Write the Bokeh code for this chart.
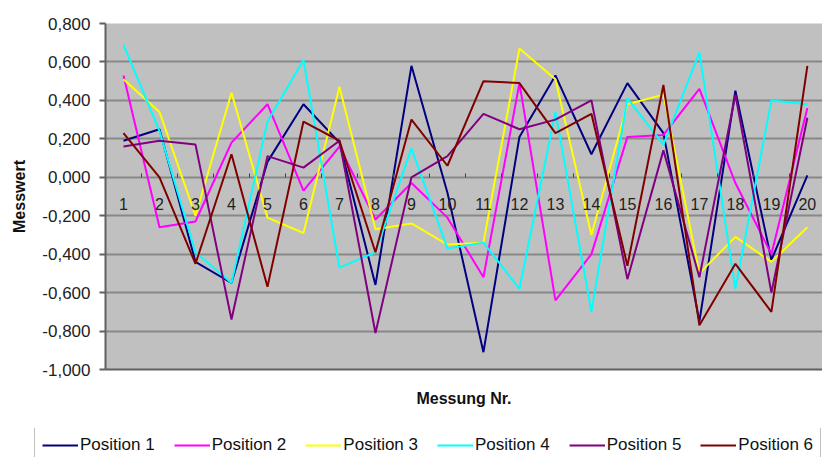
from bokeh.plotting import figure
from bokeh.models import FixedTicker, Legend, LegendItem, Range1d, LinearAxis
from bokeh.embed import file_html
from bokeh.resources import INLINE

# ---- data ----
measurements = list(range(1, 21))
x_tick_labels = [str(m) for m in measurements]

series_names = ["Position 1", "Position 2", "Position 3", "Position 4", "Position 5", "Position 6"]
series_colors = ["#000080", "#FF00FF", "#FFFF00", "#00FFFF", "#800080", "#800000"]

pos1 = [0.19, 0.25, -0.44, -0.55, 0.08, 0.38, 0.18, -0.56, 0.58, -0.08,
        -0.91, 0.21, 0.53, 0.12, 0.49, 0.23, -0.75, 0.45, -0.43, 0.01]
pos2 = [0.53, -0.26, -0.23, 0.18, 0.38, -0.07, 0.16, -0.22, -0.03, -0.21,
        -0.52, 0.49, -0.64, -0.40, 0.21, 0.22, 0.46, -0.03, -0.40, 0.36]
pos3 = [0.51, 0.34, -0.20, 0.44, -0.21, -0.29, 0.47, -0.27, -0.24, -0.35,
        -0.34, 0.67, 0.51, -0.30, 0.38, 0.43, -0.50, -0.31, -0.44, -0.26]
pos4 = [0.69, 0.24, -0.39, -0.55, 0.29, 0.61, -0.47, -0.39, 0.15, -0.37,
        -0.34, -0.58, 0.34, -0.70, 0.41, 0.17, 0.65, -0.58, 0.40, 0.38]
pos5 = [0.16, 0.19, 0.17, -0.74, 0.11, 0.05, 0.19, -0.81, 0.00, 0.11,
        0.33, 0.25, 0.30, 0.40, -0.53, 0.14, -0.52, 0.43, -0.60, 0.31]
pos6 = [0.23, 0.00, -0.45, 0.12, -0.57, 0.29, 0.19, -0.39, 0.30, 0.06,
        0.50, 0.49, 0.23, 0.33, -0.46, 0.48, -0.77, -0.45, -0.70, 0.58]
series_values = [pos1, pos2, pos3, pos4, pos5, pos6]

y_ticks = [-1.0, -0.8, -0.6, -0.4, -0.2, 0.0, 0.2, 0.4, 0.6, 0.8]
y_tick_labels = ["-1,000", "-0,800", "-0,600", "-0,400", "-0,200",
                 "0,000", "0,200", "0,400", "0,600", "0,800"]
category_axis_crossing = 0.0

FONT = "Liberation Sans"

chart = figure(width=822, height=428, output_backend="svg", toolbar_location=None,
               x_range=Range1d(0.5, 20.42), y_range=Range1d(-1.0, 0.8),
               min_border_left=105, min_border_right=0, min_border_top=23,
               min_border_bottom=59)
chart.background_fill_color = "#C0C0C0"
chart.border_fill_color = "white"
chart.outline_line_color = None

# y axis
chart.yaxis.ticker = FixedTicker(ticks=y_ticks)
chart.yaxis.major_label_overrides = dict(zip(y_ticks, y_tick_labels))
chart.yaxis.major_label_text_font = FONT
chart.yaxis.major_label_text_font_size = "17px"
chart.yaxis.major_label_text_color = "#222222"
chart.yaxis.major_tick_out = 6
chart.yaxis.major_tick_in = 0
chart.yaxis.minor_tick_out = 0
chart.yaxis.minor_tick_in = 0
chart.yaxis.major_label_standoff = 9
chart.yaxis.axis_line_color = "#606060"
chart.yaxis.axis_line_width = 2
chart.yaxis.major_tick_line_color = "#606060"
chart.yaxis.major_tick_line_width = 2
chart.yaxis.axis_label = "Messwert"
chart.yaxis.axis_label_text_font = FONT
chart.yaxis.axis_label_text_font_size = "16px"
chart.yaxis.axis_label_text_font_style = "bold"
chart.yaxis.axis_label_text_color = "#111111"
chart.yaxis.axis_label_standoff = 11

# bottom x axis (title only)
chart.xaxis.ticker = FixedTicker(ticks=[])
chart.xaxis.axis_label = "Messung Nr."
chart.xaxis.axis_label_text_font = FONT
chart.xaxis.axis_label_text_font_size = "16px"
chart.xaxis.axis_label_text_font_style = "bold"
chart.xaxis.axis_label_text_color = "#111111"
chart.xaxis.axis_label_standoff = 20
chart.xaxis.axis_line_color = "#606060"
chart.xaxis.axis_line_width = 2

# grid
chart.xgrid.grid_line_color = None
chart.ygrid.ticker = FixedTicker(ticks=y_ticks)
chart.ygrid.grid_line_color = "#888888"
chart.ygrid.grid_line_width = 2

# category axis crossing at zero
minor_positions = [m + 0.5 for m in measurements]
cat_axis = LinearAxis(fixed_location=category_axis_crossing,
                      ticker=FixedTicker(ticks=measurements, minor_ticks=minor_positions),
                      major_label_overrides=dict(zip(measurements, x_tick_labels)))
cat_axis.axis_line_color = None
cat_axis.major_tick_in = 0
cat_axis.major_tick_out = 0
cat_axis.minor_tick_in = 4
cat_axis.minor_tick_out = 0
cat_axis.minor_tick_line_color = "#404040"
cat_axis.major_label_standoff = 21
cat_axis.major_label_text_font = FONT
cat_axis.major_label_text_font_size = "16px"
cat_axis.major_label_text_color = "#222222"
chart.add_layout(cat_axis, "below")

for color, vals in zip(series_colors, series_values):
    chart.line(measurements, vals, line_color=color, line_width=2)

# ---- legend strip below the chart (separate root, so its frame spans full width) ----
legend_fig = figure(width=822, height=29, output_backend="svg", toolbar_location=None,
                    x_range=Range1d(-2, -1), y_range=Range1d(-2, -1),
                    x_axis_location=None, y_axis_location=None,
                    min_border_left=0, min_border_right=0, min_border_top=0,
                    min_border_bottom=0)
legend_fig.outline_line_color = None
legend_fig.background_fill_color = "white"
legend_fig.border_fill_color = "white"
legend_fig.xgrid.visible = False
legend_fig.ygrid.visible = False

items = []
for name, color, vals in zip(series_names, series_colors, series_values):
    r = legend_fig.line(measurements, vals, line_color=color, line_width=2)
    items.append(LegendItem(label=name, renderers=[r]))

legend = Legend(items=items, orientation="horizontal", location=(34, -6))
legend.margin = 0
legend.padding = 7
legend.spacing = 19
legend.glyph_width = 36
legend.glyph_height = 20
legend.label_height = 20
legend.label_standoff = 2
legend.label_text_font = FONT
legend.label_text_font_size = "17px"
legend.label_text_color = "#111111"
legend.border_line_color = "#808080"
legend.border_line_width = 1
legend.background_fill_color = "white"
legend.background_fill_alpha = 1.0
legend_fig.add_layout(legend, "center")

p = [chart, legend_fig]

open("out.html", "w").write(file_html(p, INLINE))
